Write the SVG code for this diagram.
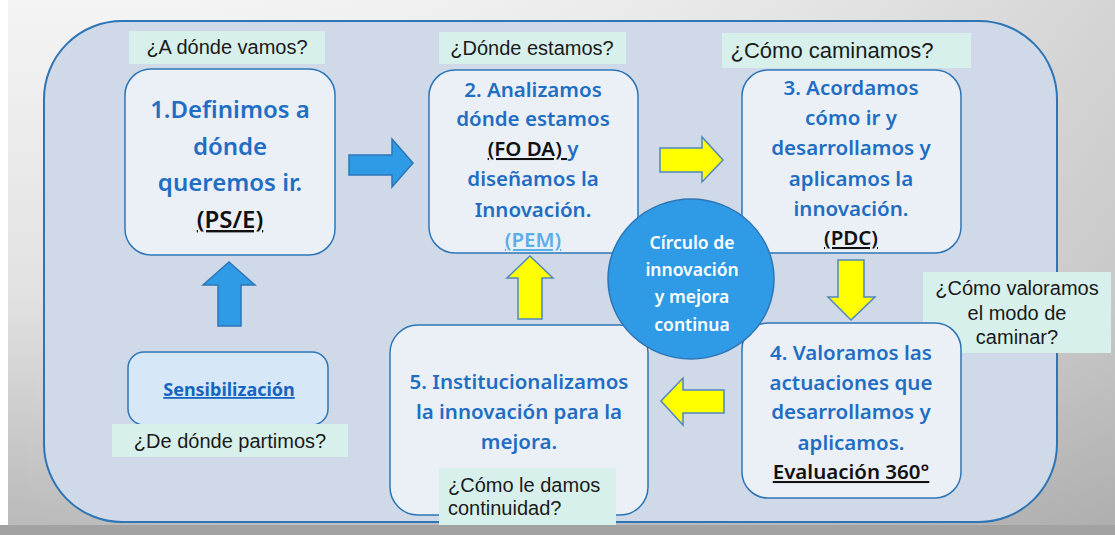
<svg xmlns="http://www.w3.org/2000/svg" width="1115" height="535" viewBox="0 0 1115 535">
<defs>
<linearGradient id="bg" x1="0" y1="0" x2="0" y2="1">
<stop offset="0" stop-color="#f4f4f4"/>
<stop offset="0.55" stop-color="#e2e2e2"/>
<stop offset="1" stop-color="#b8b8b8"/>
</linearGradient>
<linearGradient id="bgr" x1="0" y1="0" x2="1" y2="0">
<stop offset="0" stop-color="#ffffff" stop-opacity="0"/>
<stop offset="1" stop-color="#9a9a9a" stop-opacity="0.35"/>
</linearGradient>
<style>
.frame{fill:#cfd9e7;stroke:#2e75b6;stroke-width:2}
.box{fill:#ebf0f7;stroke:#2e75b6;stroke-width:1.5}
.sbox{fill:#d6e8f8;stroke:#2e75b6;stroke-width:1.5}
.lab{fill:#d7f0ec}
.q{font-family:"Liberation Sans",Arial,sans-serif;font-size:20px;fill:#1a1a1a}
.t{font-family:"Noto Sans","Open Sans",sans-serif;font-weight:600;font-size:20.5px;fill:#1f6ec3;text-anchor:middle}
.big{font-size:24px}
.k{fill:#111111;text-decoration:underline}
.blue{fill:#2f9be6;stroke:#2e75b6;stroke-width:1.5}
.yel{fill:#ffff00;stroke:#4f86c0;stroke-width:1.5}
.c{font-family:"Noto Sans","Open Sans",sans-serif;font-weight:600;font-size:17.5px;fill:#ffffff;text-anchor:middle}
</style>
</defs>
<rect x="0" y="0" width="1115" height="535" fill="url(#bg)"/>
<rect x="0" y="0" width="1115" height="535" fill="url(#bgr)"/>
<rect x="0" y="0" width="8" height="525" fill="#ffffff"/>
<rect x="0" y="525" width="1115" height="10" fill="#a2a2a2"/>

<g id="frame">
<rect class="frame" x="44" y="21" width="1013" height="501" rx="78" ry="78"/>
</g>

<g id="node1">
<rect class="box" x="125" y="69" width="210" height="186" rx="26"/>
<text class="t big" x="230" y="118">1.Definimos a</text>
<text class="t big" x="230" y="155">dónde</text>
<text class="t big" x="230" y="191">queremos ir.</text>
<text class="t big k" x="230" y="228">(PS/E)</text>
</g>
<g id="label1">
<rect class="lab" x="129" y="31" width="196" height="33"/>
<text class="q" x="227" y="54" text-anchor="middle">¿A dónde vamos?</text>
</g>

<g id="node2">
<rect class="box" x="429" y="70" width="209" height="183" rx="26"/>
<text class="t" x="533" y="97">2. Analizamos</text>
<text class="t" x="533" y="126">dónde estamos</text>
<text class="t" x="533" y="156"><tspan class="k">(FO DA) </tspan>y</text>
<text class="t" x="533" y="186">diseñamos la</text>
<text class="t" x="533" y="217">Innovación.</text>
<text class="t" x="533" y="247" style="fill:#5aaeea;text-decoration:underline">(PEM)</text>
</g>
<g id="label2">
<rect class="lab" x="439" y="32" width="187" height="32"/>
<text class="q" x="532" y="55" text-anchor="middle">¿Dónde estamos?</text>
</g>

<g id="node3">
<rect class="box" x="742" y="70" width="219" height="183" rx="26"/>
<text class="t" x="851" y="95">3. Acordamos</text>
<text class="t" x="851" y="125">cómo ir y</text>
<text class="t" x="851" y="155">desarrollamos y</text>
<text class="t" x="851" y="186">aplicamos la</text>
<text class="t" x="851" y="216">innovación.</text>
<text class="t k" x="851" y="245">(PDC)</text>
</g>
<g id="label3">
<rect class="lab" x="722" y="33" width="249" height="35"/>
<text class="q" x="832" y="58" text-anchor="middle" style="font-size:22px">¿Cómo caminamos?</text>
</g>

<g id="label4">
<rect class="lab" x="923" y="272" width="188" height="81"/>
<text class="q" x="1017" y="295" text-anchor="middle">¿Cómo valoramos</text>
<text class="q" x="1017" y="320" text-anchor="middle">el modo de</text>
<text class="q" x="1017" y="344" text-anchor="middle">caminar?</text>
</g>
<g id="node4">
<rect class="box" x="742" y="323" width="219" height="175" rx="26"/>
<text class="t" x="851" y="360">4. Valoramos las</text>
<text class="t" x="851" y="390">actuaciones que</text>
<text class="t" x="851" y="419">desarrollamos y</text>
<text class="t" x="851" y="450">aplicamos.</text>
<text class="t k" x="851" y="479">Evaluación 360°</text>
</g>

<g id="node5">
<rect class="box" x="390" y="325" width="258" height="190" rx="28"/>
<text class="t" x="519" y="389">5. Institucionalizamos</text>
<text class="t" x="519" y="419">la innovación para la</text>
<text class="t" x="519" y="449">mejora.</text>
</g>
<g id="label5">
<rect class="lab" x="439" y="468" width="177" height="57"/>
<text class="q" x="448" y="492">¿Cómo le damos</text>
<text class="q" x="448" y="515">continuidad?</text>
</g>

<g id="node0">
<rect class="sbox" x="128" y="352" width="200" height="73" rx="16"/>
<text class="t" x="229" y="396" style="font-weight:700;font-size:18px;fill:#1565c0;text-decoration:underline">Sensibilización</text>
</g>
<g id="label0">
<rect class="lab" x="112" y="424" width="236" height="33"/>
<text class="q" x="230" y="448" text-anchor="middle">¿De dónde partimos?</text>
</g>

<g id="connectors">
<polygon class="blue" points="349,155 392,155 392,139 413,163 392,187 392,175 349,175"/>
<polygon class="yel" points="660,148 702,148 702,137 723,160 702,182 702,172 660,172"/>
<polygon class="yel" points="838,260 864,260 864,297 875,297 851,320 828,297 838,297"/>
<polygon class="yel" points="724,390 683,390 683,378 661,401 683,425 683,413 724,413"/>
<polygon class="yel" points="518,319 518,278 507,278 530,256 553,278 542,278 542,319"/>
<polygon class="blue" points="218,326 218,285 203,285 229,262 255,285 241,285 241,326"/>
</g>

<g id="center">
<ellipse cx="691" cy="279" rx="83" ry="80" fill="#2f9be6" stroke="#2e75b6" stroke-width="1.5"/>
<text class="c" x="692" y="249">Círculo de</text>
<text class="c" x="692" y="276">innovación</text>
<text class="c" x="692" y="303">y mejora</text>
<text class="c" x="692" y="331">continua</text>
</g>
</svg>
